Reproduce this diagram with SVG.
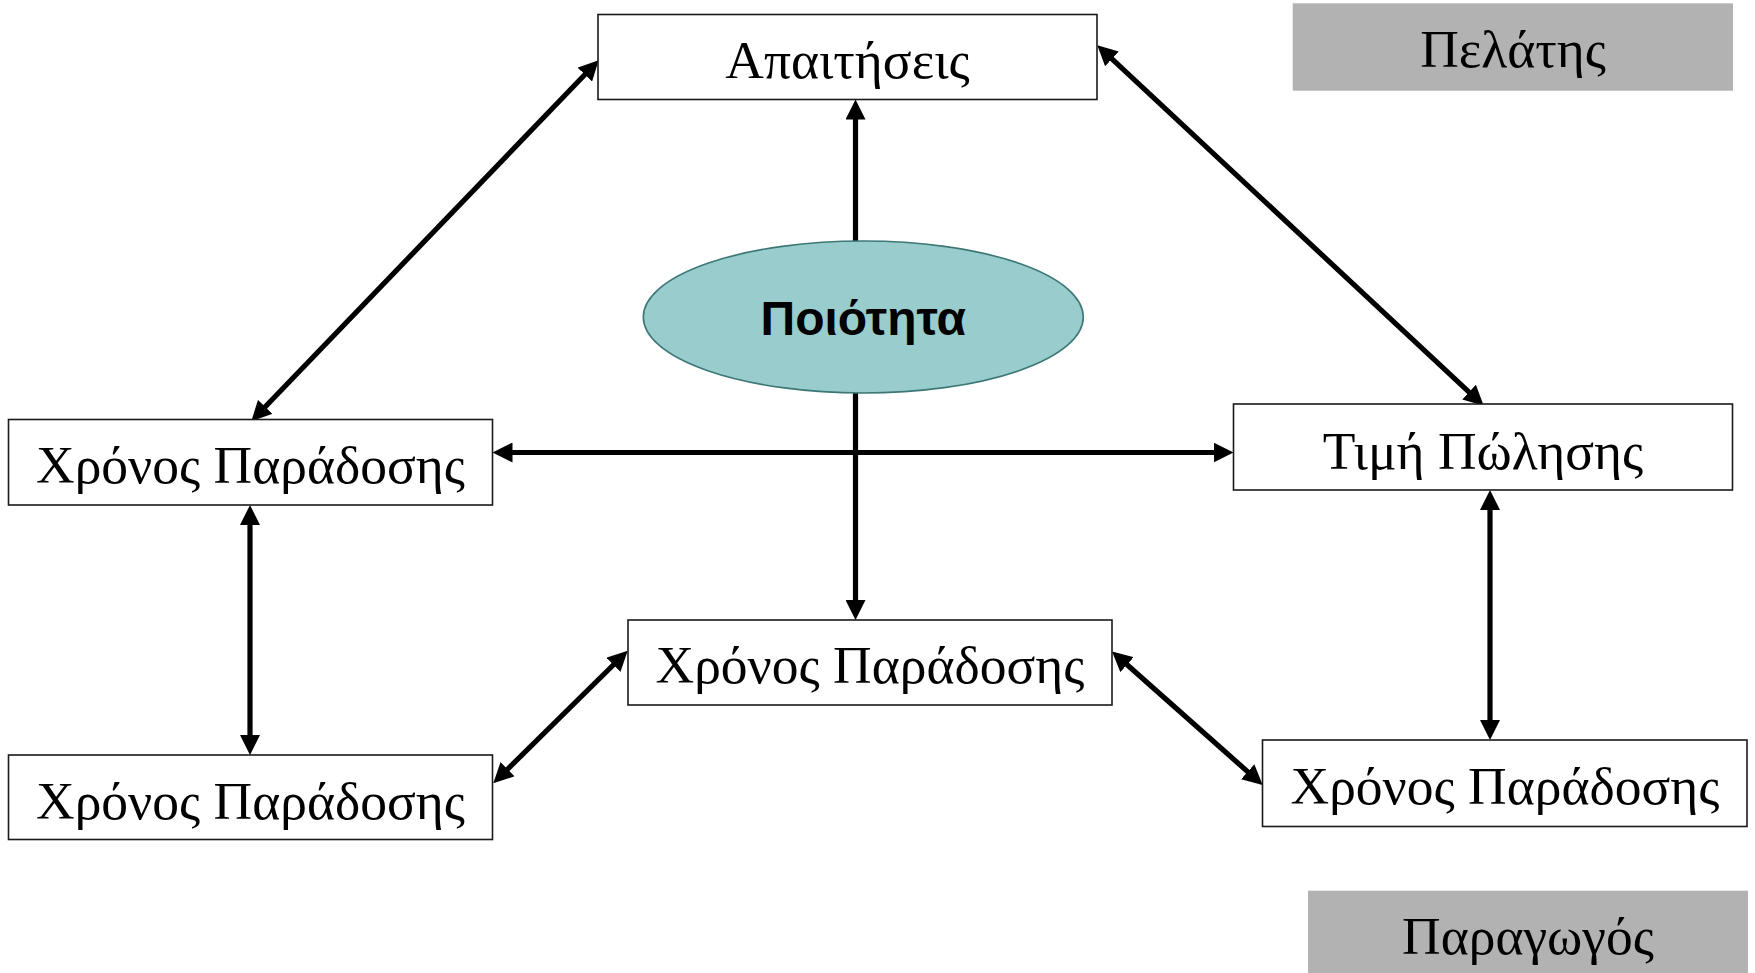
<svg xmlns="http://www.w3.org/2000/svg" width="1755" height="973" viewBox="0 0 1755 973">
<style>
.box{fill:#fff;stroke:#1a1a1a;stroke-width:1.6}
.lbl{fill:#b2b2b2;stroke:none}
.t{font-family:"Liberation Serif","Times New Roman",serif;font-size:53.5px;fill:#000;text-anchor:middle}
.tb{font-family:"Liberation Sans",Arial,sans-serif;font-size:48px;font-weight:bold;fill:#000;text-anchor:middle}
.c{stroke:#000;stroke-width:5.2;fill:none}
</style>
<defs>
<marker id="ah" viewBox="0 0 20 20" markerWidth="20" markerHeight="20" markerUnits="userSpaceOnUse" refX="4" refY="10" orient="auto-start-reverse">
<path d="M0,0 L20,10 L0,20 z" fill="#000"/>
</marker>
</defs>
<rect width="1755" height="973" fill="#fff"/>
<g id="connectors">
<line class="c" x1="587.6" y1="71.8" x2="262.4" y2="409.7" marker-start="url(#ah)" marker-end="url(#ah)"/>
<line class="c" x1="1109" y1="56.2" x2="1472" y2="394.8" marker-start="url(#ah)" marker-end="url(#ah)"/>
<line class="c" x1="855.5" y1="241" x2="855.5" y2="115.5" marker-end="url(#ah)"/>
<line class="c" x1="855.5" y1="393" x2="855.5" y2="604" marker-end="url(#ah)"/>
<line class="c" x1="508.5" y1="452.5" x2="1217.5" y2="452.5" marker-start="url(#ah)" marker-end="url(#ah)"/>
<line class="c" x1="250" y1="521" x2="250" y2="739" marker-start="url(#ah)" marker-end="url(#ah)"/>
<line class="c" x1="504.7" y1="772" x2="616.3" y2="662" marker-start="url(#ah)" marker-end="url(#ah)"/>
<line class="c" x1="1124" y1="662" x2="1250.7" y2="774.4" marker-start="url(#ah)" marker-end="url(#ah)"/>
<line class="c" x1="1490" y1="506" x2="1490" y2="724" marker-start="url(#ah)" marker-end="url(#ah)"/>
</g>
<g id="pelatis">
<rect class="lbl" x="1292.7" y="3.3" width="440.3" height="87.4"/>
<text class="t" x="1513" y="67">Πελάτης</text>
</g>
<g id="paragogos">
<rect class="lbl" x="1308" y="890.7" width="440" height="82.3"/>
<text class="t" x="1528" y="953.5">Παραγωγός</text>
</g>
<g id="apaitiseis">
<rect class="box" x="598" y="14.5" width="499" height="85"/>
<text class="t" x="847.5" y="78">Απαιτήσεις</text>
</g>
<g id="poiotita">
<ellipse cx="863.3" cy="317" rx="220" ry="76" fill="#99cccc" stroke="#3d7777" stroke-width="1.6"/>
<text class="tb" x="863.3" y="335">Ποιότητα</text>
</g>
<g id="xronos-left">
<rect class="box" x="8.5" y="419.5" width="484" height="85.5"/>
<text class="t" x="250.5" y="483">Χρόνος Παράδοσης</text>
</g>
<g id="timi">
<rect class="box" x="1233.5" y="404" width="499" height="86"/>
<text class="t" x="1483" y="468.5">Τιμή Πώλησης</text>
</g>
<g id="xronos-mid">
<rect class="box" x="628" y="620" width="484" height="85"/>
<text class="t" x="870" y="683">Χρόνος Παράδοσης</text>
</g>
<g id="xronos-bl">
<rect class="box" x="8.5" y="755" width="484" height="84.5"/>
<text class="t" x="250.5" y="818.5">Χρόνος Παράδοσης</text>
</g>
<g id="xronos-br">
<rect class="box" x="1262.5" y="740" width="484.5" height="86.5"/>
<text class="t" x="1505" y="804">Χρόνος Παράδοσης</text>
</g>
</svg>
